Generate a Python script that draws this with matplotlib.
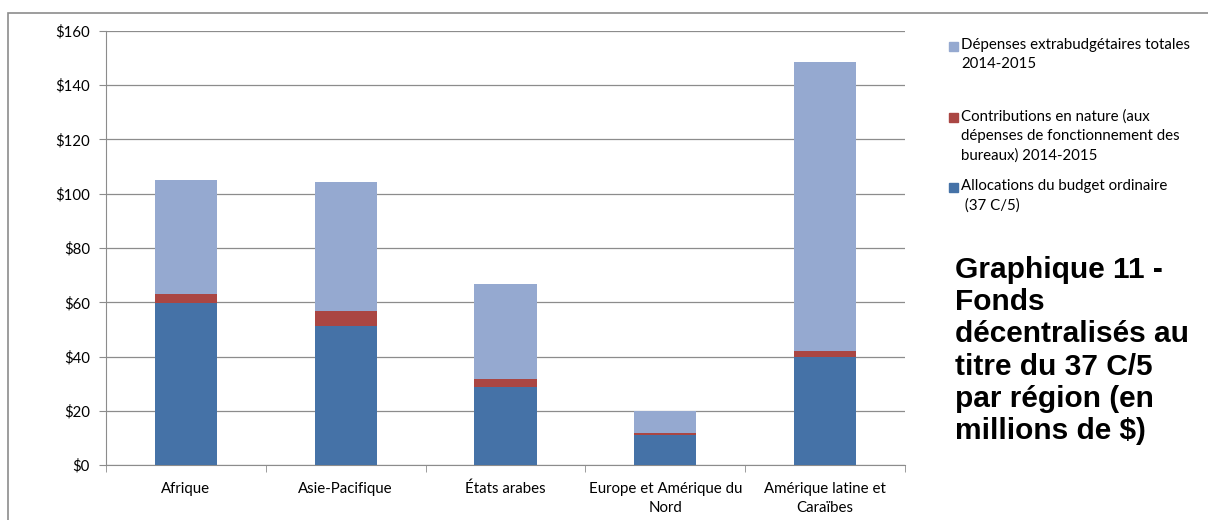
import matplotlib.pyplot as plt
from matplotlib.patches import Rectangle
import numpy as np

# regions and amounts (millions of $)
regions = ["Afrique", "Asie-Pacifique", "États arabes",
           "Europe et Amérique du\nNord", "Amérique latine et\nCaraïbes"]
budget_ordinaire = [59.8, 51.4, 28.7, 10.9, 39.7]
contrib_nature = [3.1, 5.2, 3.1, 1.0, 2.4]
extrabudgetaire = [42.0, 47.7, 35.0, 8.1, 106.5]

series_names = ["Dépenses extrabudgétaires totales\n2014-2015",
                "Contributions en nature (aux\ndépenses de fonctionnement des\nbureaux) 2014-2015",
                "Allocations du budget ordinaire\n (37 C/5)"]
col_blue = "#4572A7"
col_red = "#AA4643"
col_light = "#95A9D0"

plt.rcParams['font.family'] = ['Lato', 'DejaVu Sans']

fig = plt.figure(figsize=(12.08, 5.2), dpi=100)
ax = fig.add_axes([106 / 1208, 1 - 465 / 520, 799 / 1208, 434 / 520])

x = np.arange(len(regions))
b1 = np.array(budget_ordinaire)
b2 = np.array(contrib_nature)
b3 = np.array(extrabudgetaire)
w = 0.39
ax.bar(x, b1, w, color=col_blue, zorder=3)
ax.bar(x, b2, w, bottom=b1, color=col_red, zorder=3)
ax.bar(x, b3, w, bottom=b1 + b2, color=col_light, zorder=3)

ax.set_xlim(-0.5, len(regions) - 0.5)
ax.set_ylim(0, 160)
ax.set_yticks(np.arange(0, 161, 20))
ax.set_yticklabels(["$%d" % v for v in range(0, 161, 20)], fontsize=10.8)
ax.yaxis.grid(True, color="#8c8c8c", lw=0.9, zorder=0)
ax.tick_params(axis="y", length=5, color="#8c8c8c", pad=6.5)

ax.set_xticks(x)
ax.set_xticklabels(regions, fontsize=10.8, linespacing=1.45)
ax.tick_params(axis="x", which="major", length=0, pad=12)
ax.set_xticks(np.arange(-0.5, len(regions), 1.0), minor=True)
ax.tick_params(axis="x", which="minor", length=5, color="#8c8c8c")

for s in ["top", "right"]:
    ax.spines[s].set_visible(False)
for s in ["left", "bottom"]:
    ax.spines[s].set_color("#8c8c8c")

# outer frame of the chart area
fig.patches.append(Rectangle((8 / 1208, -0.05), 1.1, 1 - 13 / 520 + 0.05,
                             transform=fig.transFigure, fill=False,
                             edgecolor="#8c8c8c", lw=1.2))

# legend drawn by hand, entries in stacking order from the top
leg_colors = [col_light, col_red, col_blue]
leg_tops = [38, 109, 179]
for name, c, yt in zip(series_names, leg_colors, leg_tops):
    fig.patches.append(Rectangle((949 / 1208, 1 - (yt + 13) / 520), 9 / 1208, 9 / 520,
                                 transform=fig.transFigure, color=c))
    fig.text(961 / 1208, 1 - yt / 520, name, fontsize=10.8, va="top", ha="left",
             linespacing=1.5)

fig.text(955 / 1208, 1 - 256 / 520,
         "Graphique 11 -\nFonds\ndécentralisés au\ntitre du 37 C/5\npar région (en\nmillions de $)",
         fontsize=21.5, fontweight="bold", family="Liberation Sans",
         va="top", ha="left", linespacing=1.19)

fig.savefig("out.png", dpi=100)
